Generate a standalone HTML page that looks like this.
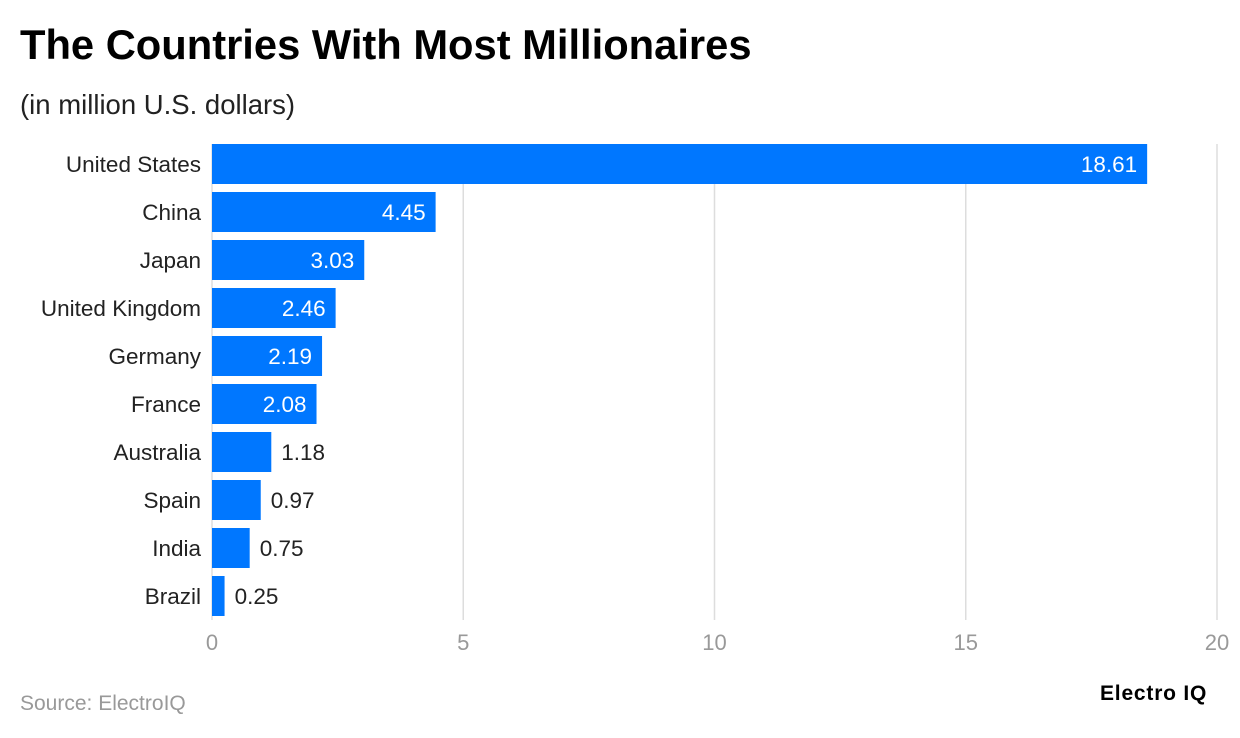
<!DOCTYPE html>
<html><head><meta charset="utf-8"><style>
body{margin:0;width:1240px;height:738px;background:#fff;font-family:"Liberation Sans",sans-serif;overflow:hidden;position:relative}
.t{position:absolute;white-space:nowrap}
</style></head><body>
<div class="t" style="left:20px;top:21px;font-size:41.7px;font-weight:bold;color:#000">The Countries With Most Millionaires</div>
<div class="t" style="left:20px;top:89px;font-size:27.5px;color:#222">(in million U.S. dollars)</div>
<svg id="chart" width="1240" height="738" style="position:absolute;left:0;top:0"></svg>
<div class="t" style="left:20px;top:692px;font-size:21px;color:#999">Source: ElectroIQ</div>
<div class="t" style="left:1100px;top:682px;font-size:21px;font-weight:bold;color:#000;letter-spacing:0.8px">Electro IQ</div>
<script>
const categories=["United States","China","Japan","United Kingdom","Germany","France","Australia","Spain","India","Brazil"];
const values=[18.61,4.45,3.03,2.46,2.19,2.08,1.18,0.97,0.75,0.25];
const ticks=[0,5,10,15,20];
const svg=document.getElementById('chart');
const NS='http://www.w3.org/2000/svg';
const x0=212,x1=1217,xmax=20,top0=144,step=48,bh=40;
const xs=v=>x0+(x1-x0)*v/xmax;
const ys=i=>top0+step*i;
function mk(t,a){const e=document.createElementNS(NS,t);for(const k in a)e.setAttribute(k,a[k]);svg.appendChild(e);return e;}
ticks.forEach(t=>{
 const g=mk('line',{x1:xs(t),x2:xs(t),y1:144,y2:620,stroke:'#ddd','stroke-width':1.5});
 
 
 const l=mk('text',{x:xs(t),y:650,'text-anchor':'middle','font-size':22,fill:'#999','font-family':'Liberation Sans'});
 l.textContent=t;
 
 
});
categories.forEach((c,i)=>{
 const v=values[i],y=ys(i);
 const r=mk('rect',{x:x0,y:y,width:xs(v)-x0,height:bh,fill:'#0077ff'});
 
 
 const lb=mk('text',{x:201,y:y+28,'text-anchor':'end','font-size':22.5,fill:'#222','font-family':'Liberation Sans'});
 lb.textContent=c;
 
 
 const inside=v>=2;
 const vl=mk('text',{x:inside?xs(v)-10:xs(v)+10,y:y+28,'text-anchor':inside?'end':'start','font-size':22.5,fill:inside?'#fff':'#222','font-family':'Liberation Sans'});
 vl.textContent=v.toFixed(2);
 
 
});
</script>
</body></html>
